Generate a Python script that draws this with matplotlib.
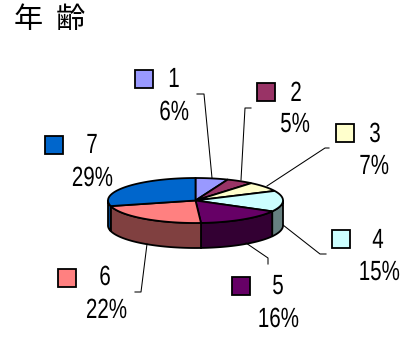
import numpy as np
import matplotlib
matplotlib.use("Agg")
import matplotlib.pyplot as plt
from matplotlib.patches import Polygon, Rectangle
from matplotlib.patheffects import AbstractPathEffect
from matplotlib.transforms import Affine2D

W, H = 402, 343

# data
labels = ["1", "2", "3", "4", "5", "6", "7"]
values = [6, 5, 7, 15, 16, 22, 29]
top_colors = ["#9999FF", "#993366", "#FFFFCC", "#CCFFFF", "#660066", "#FF8080", "#0066CC"]
side_colors = ["#4C4C80", "#4C1933", "#808066", "#668080", "#330033", "#804040", "#00509F"]

# layout in pixels, y going down
CX, CY, RX, RY, DEPTH = 195.5, 200.5, 87.5, 22.5, 25
key_xy = [(144, 79), (266, 92), (345, 133), (341, 239), (241, 286), (67, 278), (54, 145)]
name_xy = [(174, 80), (296, 94), (375, 135), (378, 241), (278, 287), (105, 278), (92, 146)]
pct_xy = [(189, 113), (310, 125), (389, 167), (400, 273), (299, 320), (127, 311), (113, 179)]
leaders = [
    [(197, 94), (204, 94), (212, 178)],
    [(251, 108), (245, 108), (241, 180)],
    [(329, 148), (325, 148), (267, 186)],
    [(283, 225), (320, 254), (326, 254)],
    [(246, 243), (268, 258), (268, 264)],
    [(147, 244), (141, 292), (135, 292)],
]

SANS = ["Liberation Sans", "DejaVu Sans"]
SQUEEZE = 0.74


class SqueezeX(AbstractPathEffect):
    # the reference uses a narrow gothic, no such font here, so narrow the glyphs
    def __init__(self, anchor_x, scale):
        super().__init__()
        self.anchor_x = anchor_x
        self.scale = scale

    def draw_path(self, renderer, gc, tpath, affine, rgbFace=None):
        squeeze = Affine2D().translate(-self.anchor_x, 0).scale(self.scale, 1).translate(self.anchor_x, 0)
        renderer.draw_path(gc, tpath, affine + squeeze, rgbFace)


def arc(a0, a1, dy=0.0):
    t = np.radians(np.linspace(a0, a1, 80))
    return np.column_stack([CX + RX * np.sin(t), CY - RY * np.cos(t) + dy])


def main():
    fig = plt.figure(figsize=(W / 100, H / 100), dpi=100)
    ax = fig.add_axes([0, 0, 1, 1])
    ax.set_xlim(0, W)
    ax.set_ylim(H, 0)
    ax.axis("off")

    edges = np.cumsum([0] + values) / sum(values) * 360

    # side wall, front half only
    for i in range(len(values)):
        a0, a1 = max(edges[i], 90), min(edges[i + 1], 270)
        if a1 <= a0:
            continue
        pts = np.vstack([arc(a0, a1), arc(a1, a0, DEPTH)])
        ax.add_patch(Polygon(pts, closed=True, fc=side_colors[i], ec="black", lw=1.3))

    # top face
    for i in range(len(values)):
        pts = np.vstack([[(CX, CY)], arc(edges[i], edges[i + 1])])
        ax.add_patch(Polygon(pts, closed=True, fc=top_colors[i], ec="black", lw=1.3))

    for pts in leaders:
        xs, ys = zip(*pts)
        ax.plot(xs, ys, color="black", lw=0.75)

    for i, lab in enumerate(labels):
        kx, ky = key_xy[i]
        ax.add_patch(Rectangle((kx - 9, ky - 9), 18, 18, fc=top_colors[i], ec="black", lw=1.3))
        ax.text(*name_xy[i], lab, family=SANS, fontsize=20, color="black", ha="center", va="center",
                path_effects=[SqueezeX(name_xy[i][0], SQUEEZE)])
        ax.text(*pct_xy[i], f"{values[i]}%", family=SANS, fontsize=20, color="black", ha="right", va="center",
                path_effects=[SqueezeX(pct_xy[i][0], SQUEEZE)])

    ax.text(14, 20, "年  齢", family=["Noto Sans CJK JP", "DejaVu Sans"], fontsize=21,
            color="black", ha="left", va="center")

    fig.savefig("out.png", dpi=100)


if __name__ == "__main__":
    main()
